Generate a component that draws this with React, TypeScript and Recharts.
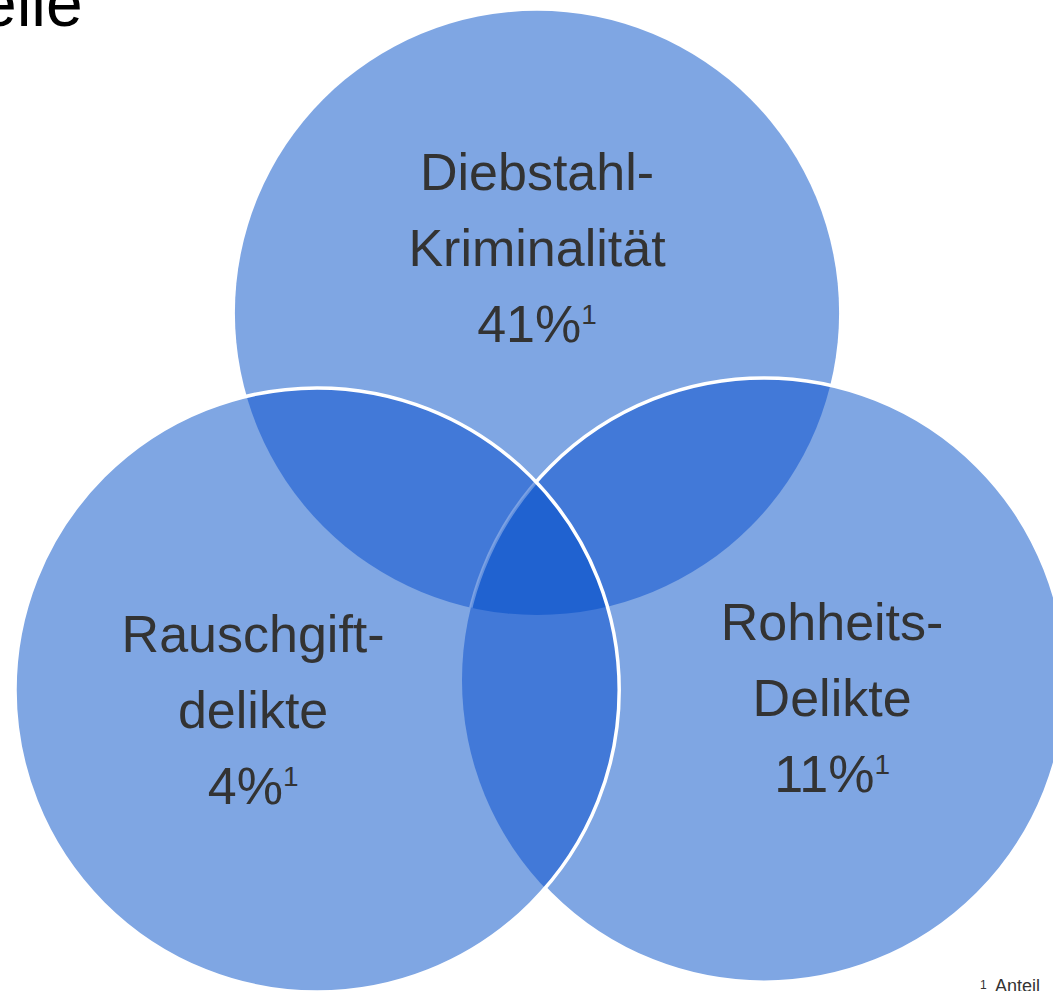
import React from 'react';
import { ScatterChart, Scatter, XAxis, YAxis } from 'recharts';

// sets: top, bottom-right, bottom-left (drawing order matters for the overlaps)
const setNames = [
  ['Diebstahl-', 'Kriminalität'],
  ['Rohheits-', 'Delikte'],
  ['Rauschgift-', 'delikte'],
];
const setShares = [41, 11, 4];
const centerX = [179, 254.7, 105.7];
const centerY = [225.7, 103.3, 100];
const radius = 100.7;

const WIDTH = 1053;
const HEIGHT = 991;
const PX = 3; // pixels per data unit (1050 / 350, 990 / 330)
const R_PX = radius * PX;

const FONT = '"Liberation Sans", Arial, sans-serif';
const TEXT = '#333333';
const depthColors = ['#7FA6E3', '#4279D8', '#2062D0'];

// label block offsets from each circle centre, in px
const labelOffset = [
  { dx: 0, dy: -123 },
  { dx: 68, dy: -40 },
  { dx: -64, dy: -38 },
];
const LINE = 76;

if (typeof document !== 'undefined') {
  document.body.style.margin = '0';
  document.body.style.overflow = 'hidden';
}

const circleData = setShares.map((share, i) => ({
  x: centerX[i],
  y: centerY[i],
  id: i,
  share,
  name: setNames[i],
}));

function VennCircle(props: any) {
  const { cx, cy, payload } = props;
  const i: number = payload.id;
  const pos = (j: number) => ({
    x: cx + (centerX[j] - centerX[i]) * PX,
    y: cy - (centerY[j] - centerY[i]) * PX,
  });
  const prev = Array.from({ length: i }, (_, j) => j);
  const subsets: number[][] = [[]];
  prev.forEach((j) => {
    const n = subsets.length;
    for (let k = 0; k < n; k++) subsets.push([...subsets[k], j]);
  });
  subsets.sort((a, b) => a.length - b.length);
  const clipId = (j: number) => `venn-${i}-${j}`;

  return (
    <g>
      <defs>
        {[...prev, i].map((j) => {
          const p = pos(j);
          return (
            <clipPath id={clipId(j)} key={j}>
              <circle cx={p.x} cy={p.y} r={R_PX} />
            </clipPath>
          );
        })}
      </defs>
      {subsets.map((s, k) => (
        <g key={k}>
          {s.reduceRight<React.ReactNode>(
            (child, j) => <g clipPath={`url(#${clipId(j)})`}>{child}</g>,
            <circle cx={cx} cy={cy} r={R_PX} fill={depthColors[s.length]} />
          )}
        </g>
      ))}
      {/* outlines of earlier circles showing faintly through this one (only inside the top set) */}
      {prev
        .filter((j) => j > 0)
        .map((j) => {
          const p = pos(j);
          return (
            <g key={`o${j}`} clipPath={`url(#${clipId(i)})`}>
              <g clipPath={`url(#${clipId(0)})`}>
                <circle cx={p.x} cy={p.y} r={R_PX} fill="none" stroke="#ffffff" strokeOpacity={0.3} strokeWidth={3.5} />
              </g>
            </g>
          );
        })}
      {i > 0 && <circle cx={cx} cy={cy} r={R_PX} fill="none" stroke="#ffffff" strokeWidth={3.5} />}
    </g>
  );
}

function VennLabel(props: any) {
  const { cx, cy, payload } = props;
  const off = labelOffset[payload.id];
  const x = cx + off.dx;
  const y0 = cy + off.dy;
  return (
    <g fontFamily={FONT} fill={TEXT} textAnchor="middle">
      <text x={x} y={y0} fontSize={52}>{payload.name[0]}</text>
      <text x={x} y={y0 + LINE} fontSize={52}>{payload.name[1]}</text>
      <text x={x} y={y0 + LINE * 2} fontSize={52}>
        {`${payload.share}%`}
        <tspan fontSize={28} dy={-18}>1</tspan>
      </text>
    </g>
  );
}

export default function App() {
  return (
    <div style={{ position: 'relative', width: WIDTH, height: HEIGHT, background: '#ffffff' }}>
      <ScatterChart width={WIDTH} height={HEIGHT} margin={{ top: 0, right: 3, bottom: 1, left: 0 }}>
        <XAxis type="number" dataKey="x" domain={[0, 350]} hide />
        <YAxis type="number" dataKey="y" domain={[0, 330]} hide />
        <Scatter data={circleData} isAnimationActive={false} shape={(p: any) => <VennCircle {...p} />} />
        <Scatter data={circleData} isAnimationActive={false} shape={(p: any) => <VennLabel {...p} />} />
      </ScatterChart>
      <svg
        width={WIDTH}
        height={HEIGHT}
        style={{ position: 'absolute', left: 0, top: 0, pointerEvents: 'none' }}
      >
        <text x={-20} y={26} fontFamily={FONT} fontSize={66} fill="#000000">elle</text>
        <text x={980} y={992} fontFamily={FONT} fontSize={18} fill={TEXT}>
          <tspan fontSize={12} dy={-3}>1</tspan>
          <tspan x={995} dy={3}>Anteil</tspan>
        </text>
      </svg>
    </div>
  );
}
